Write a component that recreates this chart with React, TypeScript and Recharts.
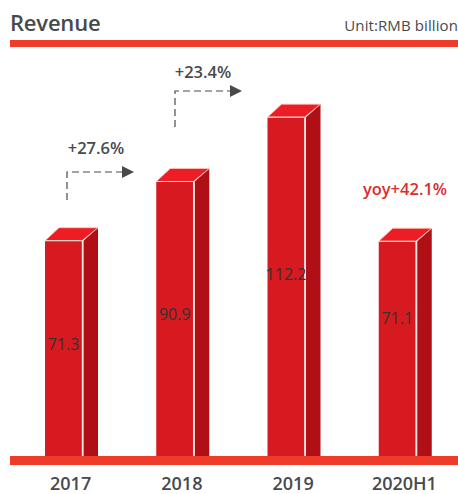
import React from "react";
import { BarChart, Bar, XAxis, YAxis, LabelList } from "recharts";

const categories = ["2017", "2018", "2019", "2020H1"];
const revenue = [71.3, 90.9, 112.2, 71.1];
const labelShift = [-4, -5, -13, -31];
const rows = categories.map((name, i) => ({ name, revenue: revenue[i] }));

const RED = "#ef3b2a";
const GREY = "#474a4d";
const FONT = "'Open Sans', 'Noto Sans', sans-serif";
const DEPTH_X = 16;
const DEPTH_Y = 13;

const Box = (p: any) => {
  const { x, y, width: w, height: h } = p;
  return (
    <g>
      <rect x={x} y={y} width={w} height={h} fill="#d61a20" />
      <path
        d={`M${x + w + 1.5},${y} L${x + w + DEPTH_X},${y - DEPTH_Y} L${x + w + DEPTH_X},${y + h} L${x + w + 1.5},${y + h} Z`}
        fill="#b01015"
      />
      <path
        d={`M${x},${y} L${x + 14},${y - DEPTH_Y} L${x + w + DEPTH_X},${y - DEPTH_Y} L${x + w},${y} Z`}
        fill="#ee1c25"
        stroke="#ffc9b8"
        strokeWidth={0.8}
      />
      <line x1={x} y1={y} x2={x + w} y2={y} stroke="#ffd9cf" strokeWidth={1} />
      <line x1={x + w + 0.5} y1={y} x2={x + w + 0.5} y2={y + h} stroke="#ffe6e0" strokeWidth={1.4} />
    </g>
  );
};

const ValueLabel = (p: any) => {
  const { x, y, width, height, value, index } = p;
  return (
    <text
      x={x + width / 2}
      y={y + height / 2 + labelShift[index]}
      textAnchor="middle"
      dominantBaseline="central"
      fill="#333333"
      fontSize={16}
      fontFamily={FONT}
    >
      {value}
    </text>
  );
};

const Tick = (p: any) => {
  const { x, y, payload } = p;
  return (
    <text x={x + 7} y={y + 26} textAnchor="middle" fill={GREY} fontSize={18} fontWeight={600} fontFamily={FONT}>
      {payload.value}
    </text>
  );
};

const Arrow = ({ x0, y0, y1, x1 }: { x0: number; y0: number; y1: number; x1: number }) => (
  <g>
    <path d={`M${x0},${y0} V${y1} H${x1}`} fill="none" stroke={GREY} strokeWidth={1.2} strokeDasharray="7 4" />
    <path d={`M${x1},${y1 - 6} L${x1 + 12},${y1} L${x1},${y1 + 6} Z`} fill={GREY} />
  </g>
);

export default function App() {
  return (
    <div style={{ position: "absolute", left: 0, top: 0, width: 458, height: 494 }}>
      <BarChart
        width={458}
        height={494}
        data={rows}
        margin={{ top: 0, right: 5, bottom: 0, left: 8 }}
      >
        <YAxis hide domain={[0, 151]} />
        <XAxis dataKey="name" height={38} axisLine={false} tickLine={false} tick={<Tick />} interval={0} />
        <Bar dataKey="revenue" barSize={37} shape={<Box />} isAnimationActive={false}>
          <LabelList dataKey="revenue" content={<ValueLabel />} />
        </Bar>
        <rect x={10} y={40} width={448} height={7} fill={RED} />
        <rect x={10} y={456} width={448} height={9} fill={RED} />
        <text x={10} y={31} fill={GREY} fontSize={22} fontWeight={600} fontFamily={FONT} letterSpacing={-0.2}>
          Revenue
        </text>
        <text x={458} y={31} textAnchor="end" fill={GREY} fontSize={15} fontWeight={500} fontFamily={FONT} letterSpacing={0.1}>
          Unit:RMB billion
        </text>
        <text x={96} y={154} textAnchor="middle" fill={GREY} fontSize={16.5} fontWeight={600} fontFamily={FONT}>
          +27.6%
        </text>
        <text x={203} y={78} textAnchor="middle" fill={GREY} fontSize={16.5} fontWeight={600} fontFamily={FONT}>
          +23.4%
        </text>
        <text x={405} y={195} textAnchor="middle" fill="#dd2c2c" fontSize={16.5} fontWeight={600} fontFamily={FONT}>
          yoy+42.1%
        </text>
        <Arrow x0={67} y0={200} y1={172} x1={122} />
        <Arrow x0={175} y0={127} y1={91} x1={230} />
      </BarChart>
    </div>
  );
}
